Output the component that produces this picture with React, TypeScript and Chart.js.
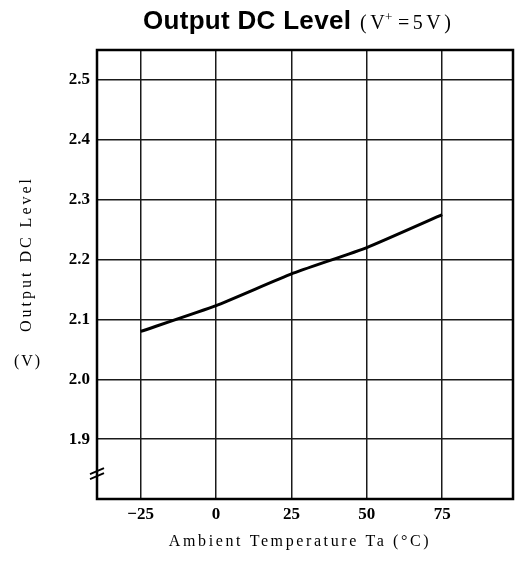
import React, { useEffect, useRef } from "react";
import { Chart, registerables } from "chart.js";

Chart.register(...registerables);

const temperatures = [-25, 0, 25, 50, 75];
const outputLevels = [2.08, 2.123, 2.176, 2.22, 2.275];
const xTicks = [-25, 0, 25, 50, 75];
const yTicks = [1.9, 2.0, 2.1, 2.2, 2.3, 2.4, 2.5];
const titleMain = "Output DC Level";
const yTitle = "Output DC Level";
const yUnit = "(V)";
const xTitle = "Ambient Temperature Ta (°C)";

const SERIF = '"Liberation Serif", "DejaVu Serif", serif';
const SANS = '"Liberation Sans", Arial, sans-serif';

const decorPlugin = {
  id: "decor",
  afterDraw(chart: any) {
    const ctx = chart.ctx as CanvasRenderingContext2D;
    const a = chart.chartArea;
    ctx.save();
    // frame
    ctx.strokeStyle = "#000";
    ctx.lineWidth = 2.5;
    ctx.strokeRect(a.left, a.top, a.right - a.left, a.bottom - a.top);

    // axis break marks
    const yb = chart.scales.y.getPixelForValue(1.845);
    ctx.lineWidth = 1.8;
    ctx.beginPath();
    ctx.moveTo(a.left - 7, yb + 2);
    ctx.lineTo(a.left + 7, yb - 4);
    ctx.moveTo(a.left - 7, yb + 7);
    ctx.lineTo(a.left + 7, yb + 1);
    ctx.stroke();

    // title
    ctx.fillStyle = "#000";
    ctx.textBaseline = "alphabetic";
    ctx.textAlign = "left";
    ctx.font = `bold 26px ${SANS}`;
    (ctx as any).letterSpacing = "0.3px";
    ctx.fillText(titleMain, 143, 29);
    ctx.font = `20px ${SERIF}`;
    (ctx as any).letterSpacing = "3.5px";
    let x = 360;
    ctx.fillText("(V", x, 29);
    x += ctx.measureText("(V").width;
    ctx.font = `13px ${SERIF}`;
    ctx.fillText("+", x - 3, 21);
    x += ctx.measureText("+").width - 1;
    ctx.font = `20px ${SERIF}`;
    ctx.fillText("=5V)", x, 29);

    // y axis title
    ctx.font = `16px ${SERIF}`;
    (ctx as any).letterSpacing = "3px";
    ctx.save();
    ctx.translate(27, 254);
    ctx.rotate(-Math.PI / 2);
    ctx.textAlign = "center";
    ctx.textBaseline = "middle";
    ctx.fillText(yTitle, 0, 0);
    ctx.restore();
    (ctx as any).letterSpacing = "2px";
    ctx.textAlign = "center";
    ctx.textBaseline = "middle";
    ctx.fillText(yUnit, 28, 362);

    // x axis title
    (ctx as any).letterSpacing = "2.6px";
    ctx.fillText(xTitle, 300, 542);
    ctx.restore();
  },
};

export default function App() {
  const ref = useRef<HTMLCanvasElement>(null);
  useEffect(() => {
    const prev = document.body.style.margin;
    document.body.style.margin = "0";
    const chart = new Chart(ref.current!, {
      type: "line",
      data: {
        datasets: [
          {
            data: temperatures.map((t, i) => ({ x: t, y: outputLevels[i] })),
            borderColor: "#000",
            borderWidth: 3,
            pointRadius: 0,
            tension: 0.15,
            fill: false,
          },
        ],
      },
      options: {
        animation: false,
        responsive: true,
        maintainAspectRatio: false,
        layout: { padding: { top: 50, right: 2, left: 0, bottom: 0 } },
        plugins: { legend: { display: false }, tooltip: { enabled: false }, title: { display: false } },
        scales: {
          x: {
            type: "linear",
            min: -39.5,
            max: 98.5,
            afterBuildTicks: (s: any) => {
              s.ticks = xTicks.map((v) => ({ value: v }));
            },
            afterFit: (s: any) => {
              s.height = 63;
            },
            grid: { color: "#1a1a1a", lineWidth: 1.5, drawTicks: false },
            border: { display: false },
            ticks: {
              padding: 5,
              color: "#000",
              font: { family: SERIF, size: 17, weight: "bold" },
              callback: (v: any) => (v < 0 ? "−" + Math.abs(v) : String(v)),
              maxRotation: 0,
            },
          },
          y: {
            type: "linear",
            min: 1.8,
            max: 2.55,
            afterBuildTicks: (s: any) => {
              s.ticks = yTicks.map((v) => ({ value: v }));
            },
            afterFit: (s: any) => {
              s.width = 97;
            },
            grid: { color: "#1a1a1a", lineWidth: 1.5, drawTicks: false },
            border: { display: false },
            ticks: {
              padding: 7,
              color: "#000",
              font: { family: SERIF, size: 17, weight: "bold" },
              callback: (v: any) => Number(v).toFixed(1),
            },
          },
        },
      },
      plugins: [decorPlugin],
    } as any);
    return () => {
      chart.destroy();
      document.body.style.margin = prev;
    };
  }, []);
  return (
    <div style={{ position: "fixed", left: 0, top: 0, width: 515, height: 562, background: "#fff" }}>
      <canvas ref={ref} />
    </div>
  );
}
